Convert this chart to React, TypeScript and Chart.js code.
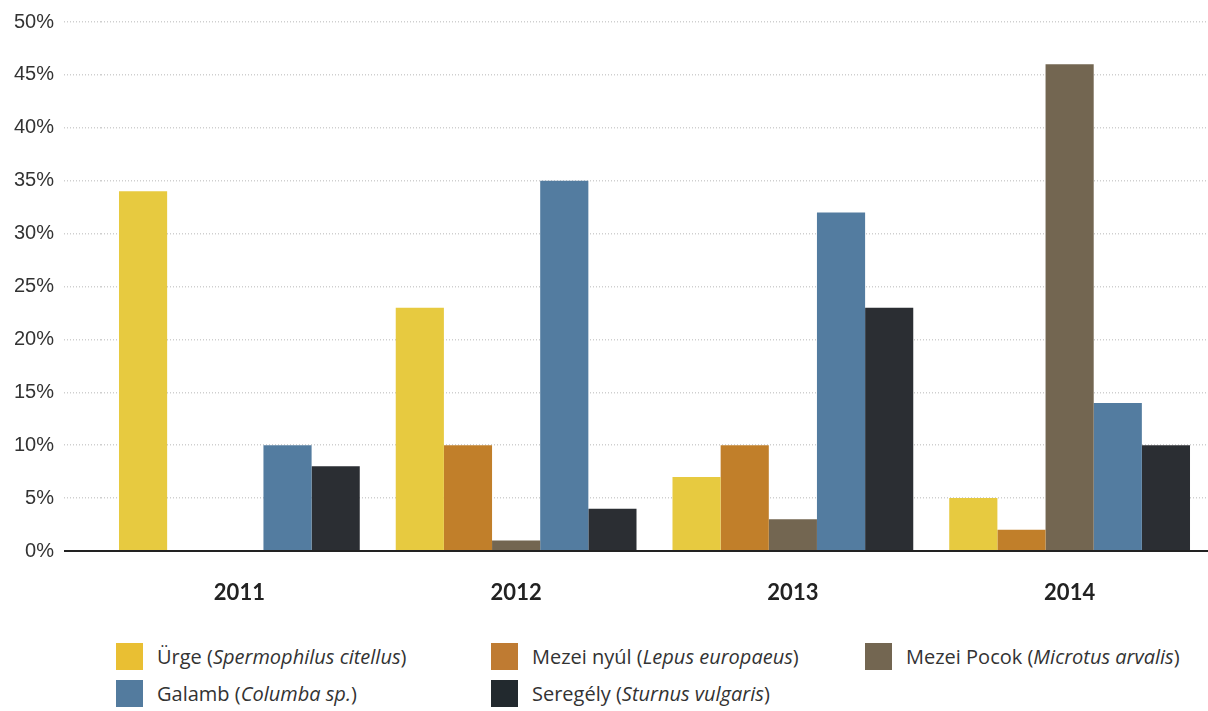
import React, { useEffect, useRef } from "react";
import { Chart, registerables } from "chart.js";

Chart.register(...registerables);

const years = ["2011", "2012", "2013", "2014"];
const urge = [34, 23, 7, 5];
const mezeiNyul = [0, 10, 10, 2];
const mezeiPocok = [0, 1, 3, 46];
const galamb = [10, 35, 32, 14];
const seregely = [8, 4, 23, 10];

const seriesNames = [
  { plain: "Ürge", latin: "Spermophilus citellus" },
  { plain: "Mezei nyúl", latin: "Lepus europaeus" },
  { plain: "Mezei Pocok", latin: "Microtus arvalis" },
  { plain: "Galamb", latin: "Columba sp." },
  { plain: "Seregély", latin: "Sturnus vulgaris" },
];
const barColors = ["#E7CA40", "#C17F2A", "#736651", "#537CA0", "#2B2E33"];
const legendColors = ["#E9BF33", "#BF7B32", "#736651", "#537B9E", "#22292E"];
const seriesValues = [urge, mezeiNyul, mezeiPocok, galamb, seregely];
const legendOrder = [0, 1, 2, 3, 4];

export default function App() {
  const canvasRef = useRef<HTMLCanvasElement | null>(null);

  useEffect(() => {
    document.body.style.margin = "0";
    const canvas = canvasRef.current;
    if (!canvas) return;
    const chart = new Chart(canvas, {
      type: "bar",
      data: {
        labels: years,
        datasets: seriesValues.map((vals, i) => ({
          label: seriesNames[i].plain,
          data: vals,
          backgroundColor: barColors[i],
          borderWidth: 0,
          categoryPercentage: 0.87,
          barPercentage: 1.0,
        })),
      },
      options: {
        animation: false,
        responsive: true,
        maintainAspectRatio: false,
        layout: { padding: { top: 11, left: 0, right: 0, bottom: 0 } },
        plugins: {
          legend: { display: false },
          tooltip: { enabled: false },
        },
        scales: {
          x: {
            grid: { display: false, drawTicks: false },
            border: { display: true, color: "#222222", width: 2 },
            ticks: {
              color: "#222222",
              padding: 29,
              font: { family: "Lato", size: 22, weight: "bold" },
            },
            afterFit: (s: any) => {
              s.height = 69;
            },
          },
          y: {
            min: 0,
            max: 50,
            ticks: {
              stepSize: 5,
              padding: 10,
              color: "#333333",
              font: { family: "Liberation Sans", size: 20 },
              callback: (v: any) => v + "%",
            },
            border: { display: false, dash: [1, 2] },
            grid: {
              color: (ctx: any) => (ctx.tick && ctx.tick.value === 0 ? "#222222" : "#cfcfcf"),
              lineWidth: (ctx: any) => (ctx.tick && ctx.tick.value === 0 ? 2 : 1.5),
              tickColor: (ctx: any) => (ctx.tick && ctx.tick.value === 0 ? "#222222" : "#cfcfcf"),
              tickWidth: (ctx: any) => (ctx.tick && ctx.tick.value === 0 ? 2 : 1.5),
              tickBorderDash: (ctx: any) => (ctx.tick && ctx.tick.value === 0 ? [] : [1, 2]),
              tickLength: 37,
              drawTicks: true,
            },
            afterFit: (s: any) => {
              s.width = 101;
            },
          },
        },
      },
    });
    return () => chart.destroy();
  }, []);

  const colLeft = [116, 491, 865];
  const rowTop = [643, 680];

  return (
    <div style={{ position: "relative", width: 1208, height: 711, fontFamily: "'Open Sans'" }}>
      <div style={{ position: "absolute", left: 0, top: 0, width: 1208, height: 620 }}>
        <canvas ref={canvasRef} />
      </div>
      {legendOrder.map((si, k) => {
        const col = k % 3;
        const row = Math.floor(k / 3);
        return (
          <div
            key={si}
            style={{
              position: "absolute",
              left: colLeft[col],
              top: rowTop[row],
              height: 27,
              display: "flex",
              alignItems: "center",
              whiteSpace: "nowrap",
            }}
          >
            <span
              style={{
                display: "inline-block",
                width: 27,
                height: 27,
                background: legendColors[si],
                marginRight: 14,
              }}
            />
            <span style={{ fontSize: 20, color: "#333333" }}>
              {seriesNames[si].plain} (<i>{seriesNames[si].latin}</i>)
            </span>
          </div>
        );
      })}
    </div>
  );
}
